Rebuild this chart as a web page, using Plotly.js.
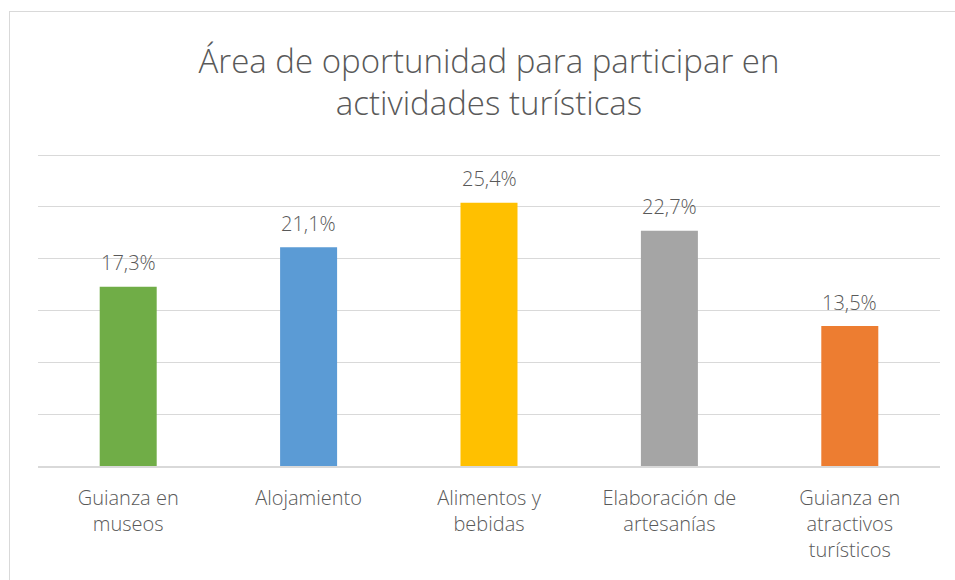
<!DOCTYPE html>
<html>
<head>
<meta charset="utf-8">
<script src="https://cdn.plot.ly/plotly-3.0.1.min.js"></script>
<style>
html,body{margin:0;padding:0;background:#fff;overflow:hidden;}
#wrap{position:relative;width:955px;height:580px;}
#chart{width:955px;height:580px;}
#frame{position:absolute;left:9px;top:11px;width:1000px;height:600px;border:1px solid #d9d9d9;pointer-events:none;}
</style>
</head>
<body>
<div id="wrap"><div id="chart"></div><div id="frame"></div></div>
<script>
const categories = ["Guianza en<br>museos", "Alojamiento", "Alimentos y<br>bebidas", "Elaboración de<br>artesanías", "Guianza en<br>atractivos<br>turísticos"];
const values = [17.3, 21.1, 25.4, 22.7, 13.5];
const labels = ["17,3%", "21,1%", "25,4%", "22,7%", "13,5%"];
const colors = ["#70AD47", "#5B9BD5", "#FFC000", "#A5A5A5", "#ED7D31"];

const trace = {
  type: "bar",
  x: categories,
  y: values,
  marker: {color: colors},
  hoverinfo: "none"
};

const annotations = categories.map((c, i) => ({
  x: c, y: values[i], xref: "x", yref: "y",
  text: labels[i], showarrow: false,
  yanchor: "middle", yshift: 24,
  font: {family: "Open Sans", size: 20, color: "#595959", weight: 300}
}));

const layout = {
  width: 955, height: 580,
  margin: {l: 38, r: 15, t: 152, b: 114},
  paper_bgcolor: "#fff", plot_bgcolor: "#fff",
  bargap: 0.684,
  showlegend: false,
  font: {family: "Open Sans", color: "#595959"},
  annotations: annotations,
  title: {
    text: "Área de oportunidad para participar en<br>actividades turísticas",
    font: {family: "Open Sans", size: 33, color: "#595959", weight: 300},
    xref: "paper", x: 0.5, xanchor: "center",
    yref: "container", y: 0.875, yanchor: "top"
  },
  xaxis: {
    tickfont: {family: "Open Sans", size: 20, color: "#595959", weight: 300},
    ticklabelstandoff: 13,
    showline: true, linecolor: "#d9d9d9", linewidth: 2,
    showgrid: false, ticks: "", fixedrange: true
  },
  yaxis: {
    range: [0, 30.3], tickvals: [5, 10, 15, 20, 25, 30],
    showticklabels: false, showgrid: true, gridcolor: "#d9d9d9", gridwidth: 1,
    zeroline: false, showline: false, ticks: "", fixedrange: true
  }
};

Plotly.newPlot("chart", [trace], layout, {staticPlot: true, displayModeBar: false});
</script>
</body>
</html>
